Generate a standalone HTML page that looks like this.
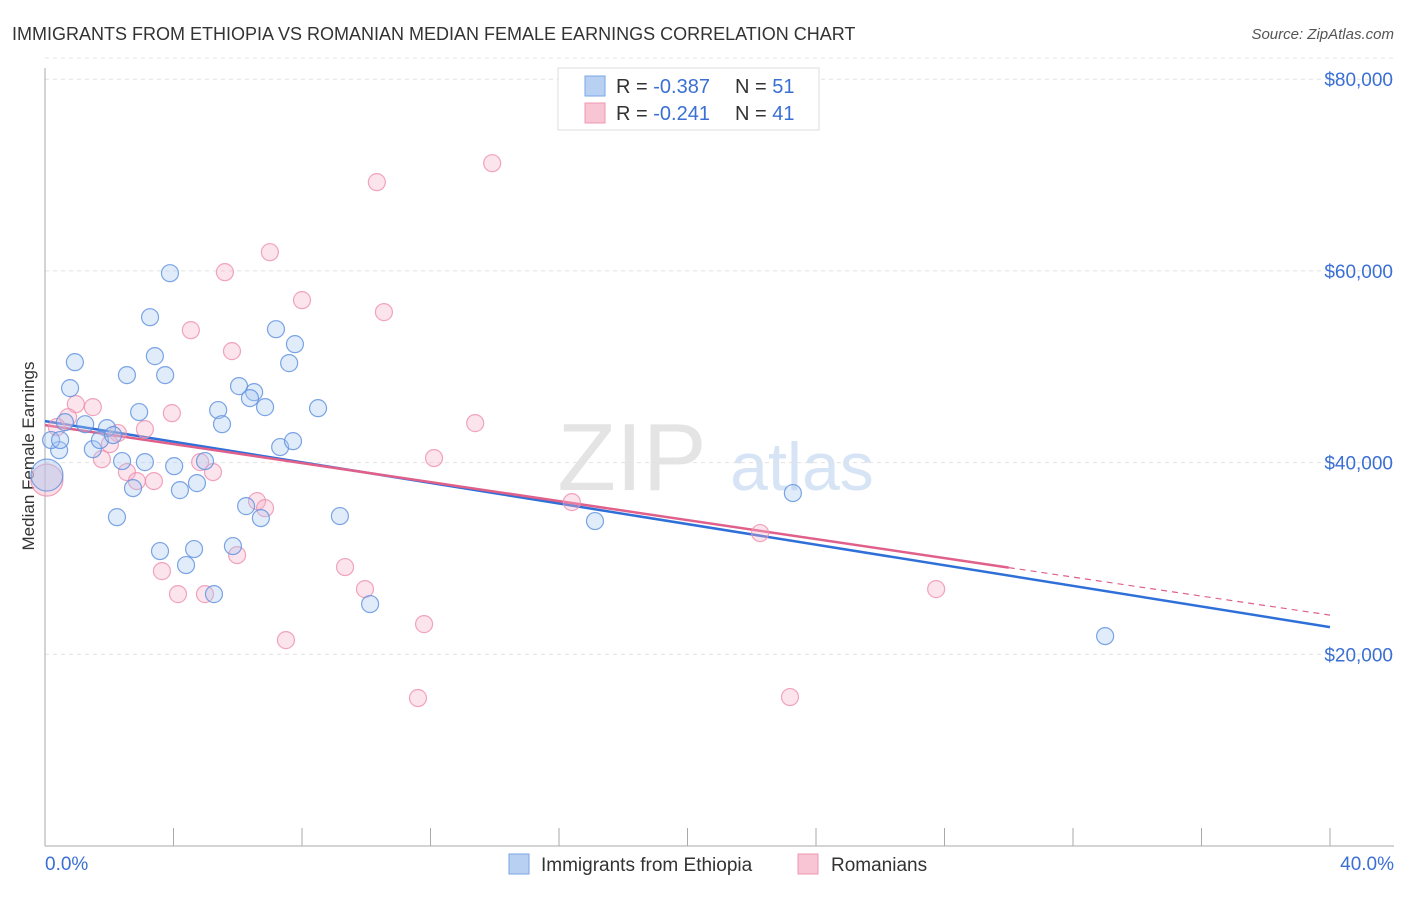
<!DOCTYPE html>
<html><head><meta charset="utf-8"><style>
body{margin:0;background:#fff;font-family:"Liberation Sans",sans-serif}
svg text{font-family:"Liberation Sans",sans-serif}
</style></head><body>
<svg id="chart" width="1406" height="892" xmlns="http://www.w3.org/2000/svg">
<text x="12" y="40" font-size="18" fill="#333">IMMIGRANTS FROM ETHIOPIA VS ROMANIAN MEDIAN FEMALE EARNINGS CORRELATION CHART</text>
<text x="1394" y="39" font-size="15" fill="#555" text-anchor="end" font-style="italic">Source: ZipAtlas.com</text>
<text transform="translate(34,456) rotate(-90)" font-size="17" fill="#333" text-anchor="middle">Median Female Earnings</text>
<g><text x="632" y="490" font-size="96" fill="#e4e4e4" font-family="Liberation Serif" text-anchor="middle" font-family="Liberation Serif,serif">ZIP</text><text x="802" y="490" font-size="68" fill="#d6e4f5" text-anchor="middle">atlas</text></g>
<g id="grid"></g><g id="axes"></g><g id="lines"></g><g id="pts"></g>
<g>
<rect x="558" y="68" width="261" height="62" fill="#fff" stroke="#ddd"/>
<rect x="585" y="76" width="20" height="20" fill="#b8d1f3" stroke="#7aa6e6"/>
<rect x="585" y="103" width="20" height="20" fill="#f8c5d5" stroke="#ee98b2"/>
<text x="616" y="93" font-size="20" fill="#333">R = <tspan fill="#3b6fd4">-0.387</tspan><tspan x="735">N = </tspan><tspan fill="#3b6fd4">51</tspan></text>
<text x="616" y="120" font-size="20" fill="#333">R = <tspan fill="#3b6fd4"> -0.241</tspan><tspan x="735">N = </tspan><tspan fill="#3b6fd4">41</tspan></text>
</g>
<g>
<rect x="509" y="854" width="20" height="20" fill="#b8d1f3" stroke="#7aa6e6"/>
<text x="541" y="871" font-size="19" fill="#333">Immigrants from Ethiopia</text>
<rect x="798" y="854" width="20" height="20" fill="#f8c5d5" stroke="#ee98b2"/>
<text x="831" y="871" font-size="19" fill="#333">Romanians</text>
</g>
</svg>
<script>
const yTicks=[20000,40000,60000,80000];
const yTickLabels=["$20,000","$40,000","$60,000","$80,000"];
const xTicks=[0,4,8,12,16,20,24,28,32,36,40];
const blueX=[3.89,3.27,0.93,3.42,2.55,3.74,0.78,7.19,7.78,7.60,6.04,6.51,6.38,6.85,8.50,2.93,5.39,5.51,0.62,1.25,1.93,0.44,0.19,1.49,1.71,2.12,7.32,7.72,2.40,3.11,4.02,4.98,2.74,4.20,4.73,2.24,6.26,6.72,9.18,3.58,4.64,5.85,4.39,5.26,10.12,17.12,23.28,33.00,0.47,0.06];
const blueY=[59760,55170,50480,51110,49130,49130,47770,53920,52360,50380,47980,47350,46730,45790,45680,45270,45480,44010,44220,44010,43600,41300,42350,41400,42350,42870,41620,42240,40160,40050,39630,40160,37340,37130,37860,34310,35460,34210,34420,30770,30980,31290,29310,26280,25240,33900,36820,21900,42350,38700];
const pinkX=[13.92,10.33,7.0,5.6,8.0,10.55,4.54,5.82,0.96,1.49,3.95,13.39,0.72,0.37,2.27,3.11,2.02,1.77,4.83,5.23,12.11,2.55,2.86,3.39,0.06,6.6,6.85,16.4,22.26,5.98,9.34,3.64,9.96,4.14,4.98,27.74,11.8,7.5,11.61,23.19];
const pinkY=[71240,69260,61950,59870,56950,55700,53820,51630,46100,45790,45160,44120,44740,43700,43080,43490,41930,40360,40050,39010,40470,39010,38070,38070,38170,35980,35250,35880,32650,30350,29100,28680,26800,26280,26280,26800,23150,21480,15440,15540];
const blueTrend=[44330,22840];
const pinkTrend=[43910,24090];
const NS="http://www.w3.org/2000/svg";
const X=v=>45+v/40*1285, Y=v=>846-v/20000*191.7;
function mk(p,t,a){const e=document.createElementNS(NS,t);for(const k in a)e.setAttribute(k,a[k]);document.getElementById(p).appendChild(e);return e;}
yTicks.forEach((t,i)=>{
 const l=mk('grid','line',{x1:45,x2:1394,y1:Y(t),y2:Y(t),stroke:'#e2e2e2','stroke-dasharray':'4,4'});
 
 
 const tx=mk('grid','text',{x:1393,y:Y(t)+7,'font-size':19,fill:'#3b6fd4','text-anchor':'end'});tx.textContent=yTickLabels[i];
 
 
});
const tl=mk('grid','line',{x1:45,x2:1394,y1:Y(82000)-2,y2:Y(82000)-2,stroke:'#e6e6e6','stroke-dasharray':'4,4'});
mk('axes','line',{x1:45,x2:45,y1:68,y2:846,stroke:'#aaa'});
mk('axes','line',{x1:45,x2:1394,y1:846,y2:846,stroke:'#aaa'});
xTicks.forEach(t=>{const l=mk('axes','line',{x1:X(t),x2:X(t),y1:828,y2:846,stroke:'#aaa'});
 
 });
let a=mk('axes','text',{x:45,y:870,'font-size':19,fill:'#3b6fd4'});a.textContent='0.0%';


a=mk('axes','text',{x:1394,y:870,'font-size':19,fill:'#3b6fd4','text-anchor':'end'});a.textContent='40.0%';


function pts(xs,ys,fill,stroke,name){xs.forEach((x,i)=>{const big=x<0.1;const c=mk('pts','circle',{cx:X(x),cy:Y(ys[i]),r:big?16:8.5,fill:fill,'fill-opacity':big?0.45:0.35,stroke:stroke,'stroke-opacity':0.8,'stroke-width':1.2});
 
 });}
pts(pinkX,pinkY,'#f6b3c8','#ee8fae','romanian-point');
pts(blueX,blueY,'#a9c8f0','#5b8fde','ethiopia-point');
let l=mk('lines','line',{x1:X(0),y1:Y(blueTrend[0]),x2:X(40),y2:Y(blueTrend[1]),stroke:'#2e6fd8','stroke-width':2.5});


const pe=30;const pm=pinkTrend[0]+(pinkTrend[1]-pinkTrend[0])*pe/40;
l=mk('lines','line',{x1:X(0),y1:Y(pinkTrend[0]),x2:X(pe),y2:Y(pm),stroke:'#e0608a','stroke-width':2.5});


l=mk('lines','line',{x1:X(pe),y1:Y(pm),x2:X(40),y2:Y(pinkTrend[1]),stroke:'#e0608a','stroke-width':1.2,'stroke-dasharray':'6,5'});


</script>
</body></html>
